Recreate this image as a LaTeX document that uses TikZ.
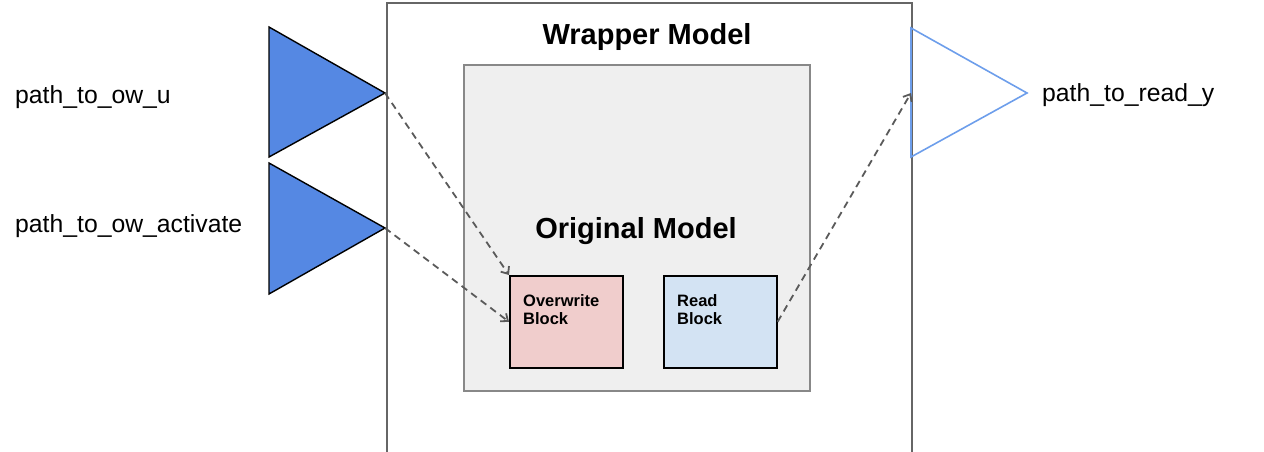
\documentclass[tikz,border=0pt]{standalone}
\usepackage{fontspec}
\setmainfont{Liberation Sans}
\usetikzlibrary{arrows.meta}
\definecolor{wrapline}{HTML}{666666}
\definecolor{origfill}{HTML}{EFEFEF}
\definecolor{origline}{HTML}{888888}
\definecolor{owfill}{HTML}{F0CDCC}
\definecolor{rdfill}{HTML}{D3E3F3}
\definecolor{portfill}{HTML}{5588E3}
\definecolor{portline}{HTML}{6D9EEB}
\definecolor{flowline}{HTML}{5A5A5A}
\tikzset{
  labeltext/.style={inner sep=0, font=\fontsize{24.75}{29}\selectfont},
  titletext/.style={inner sep=0, font=\bfseries\fontsize{29}{34}\selectfont},
  blocktext/.style={inner sep=0, align=left, anchor=north west, font=\bfseries\fontsize{16.5}{18.5}\selectfont},
  blockbox/.style={draw=black, line width=1.6pt, minimum width=113pt, minimum height=92pt, inner sep=0},
  flow/.style={draw=flowline, line width=1.8pt, dash pattern=on 7pt off 5pt, -{Straight Barb[length=6pt,width=10pt]}}
}
\begin{document}
\begin{tikzpicture}[x=1pt,y=-1pt]
\useasboundingbox (0,0) rectangle (1264,452);
\clip (0,0) rectangle (1264,452);
% wrapper and original model
\node[draw=wrapline, line width=1.8pt, minimum width=525pt, minimum height=490pt, inner sep=0, anchor=north west] (wrap) at (386,2) {};
\node[titletext, anchor=base] (wraptitle) at (647,45) {Wrapper Model};
\node[draw=origline, fill=origfill, line width=1.8pt, minimum width=346pt, minimum height=326pt, inner sep=0, anchor=north west] (orig) at (463,64) {};
\node[titletext, anchor=base] (origtitle) at (636,238) {Original Model};
\node[blockbox, fill=owfill, anchor=north west] (ow) at (509,275) {};
\node[blocktext] (owtext) at (523,294) {Overwrite\\Block};
\node[blockbox, fill=rdfill, anchor=north west] (rd) at (663,275) {};
\node[blocktext] (rdtext) at (677,294) {Read\\Block};
% ports
\path[draw=black, fill=portfill, line width=1.4pt] (269,27) -- (385,93) -- (269,157) -- cycle;
\path[draw=black, fill=portfill, line width=1.4pt] (269,163) -- (385,228) -- (269,294) -- cycle;
\path[draw=portline, line width=1.6pt] (911,28) -- (1027,93) -- (911,157) -- cycle;
\coordinate (uport) at (385,93);
\coordinate (actport) at (385,228);
\coordinate (yport) at (911,93);
\node[labeltext, anchor=base west] (ulabel) at (15,103) {path\_to\_ow\_u};
\node[labeltext, anchor=base west] (actlabel) at (15,232) {path\_to\_ow\_activate};
\node[labeltext, anchor=base west] (ylabel) at (1042,101) {path\_to\_read\_y};
% connections
\path[flow] (uport) -- (ow.north west);
\path[flow] (actport) -- (ow.west);
\path[flow] (rd.east) -- (yport);
\end{tikzpicture}
\end{document}
